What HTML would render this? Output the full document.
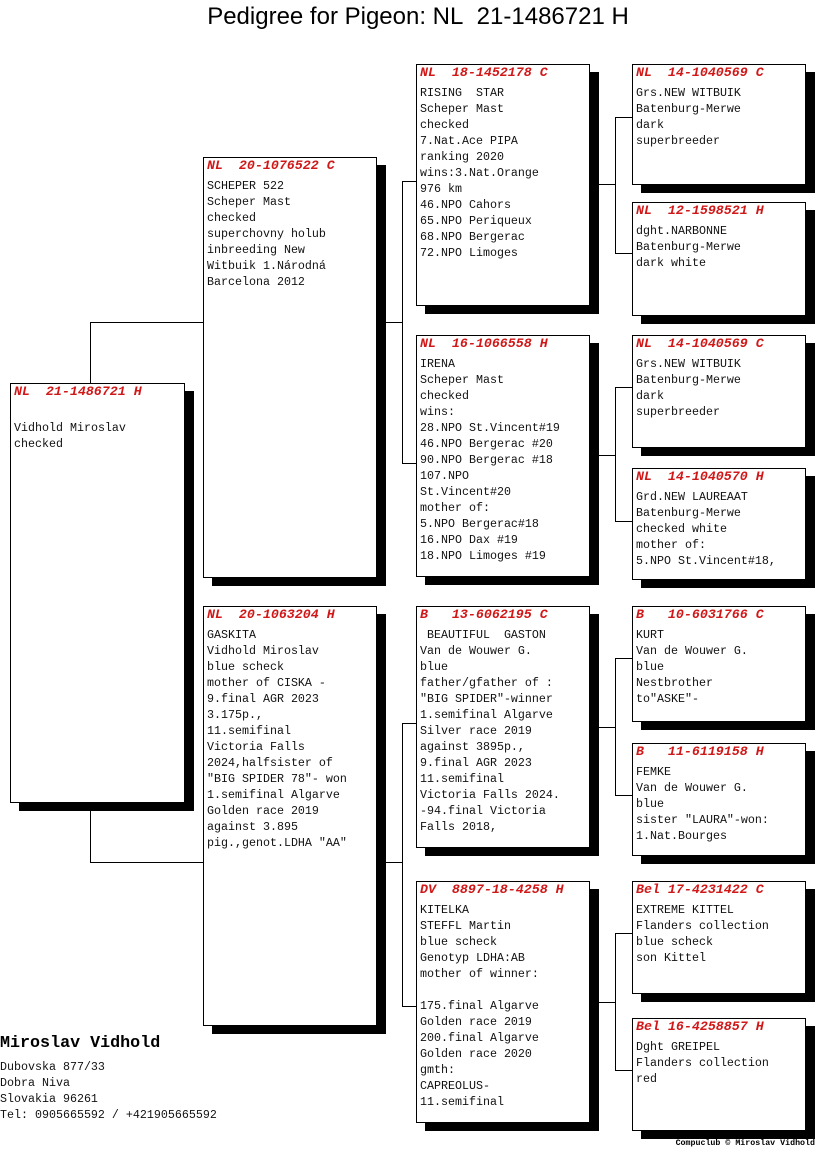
<!DOCTYPE html>
<html><head><meta charset="utf-8"><style>
body{margin:0;width:816px;height:1172px;background:#fff;position:relative;overflow:hidden;font-family:"Liberation Mono",monospace;}
.t{position:absolute;left:0;width:836px;top:3px;text-align:center;font:24px "Liberation Sans",sans-serif;color:#000;}
.b{position:absolute;border:1px solid #000;background:#fff;box-shadow:9px 8px 0 0 #000;box-sizing:border-box;}
.b .h{position:absolute;left:3px;top:0;line-height:16px;font-size:13.3px;font-weight:bold;font-style:italic;color:#d01818;white-space:pre;}
.b .c{position:absolute;left:3px;top:20px;line-height:16px;font-size:11.67px;color:#111;white-space:pre;}
.l{position:absolute;background:#000;}
.fn{position:absolute;left:0;top:1034px;font-weight:bold;font-size:16.7px;}
.fa{position:absolute;left:0;top:1059px;font-size:11.67px;line-height:16px;white-space:pre;color:#111;}
.cc{position:absolute;right:1px;top:1139px;font-size:8.3px;font-weight:bold;font-family:"Liberation Mono",monospace;}
</style></head><body>
<div class="t">Pedigree for Pigeon: NL&nbsp;&nbsp;21-1486721 H</div>

<div class="l" style="left:90px;top:322px;width:1px;height:61px"></div>
<div class="l" style="left:90px;top:322px;width:113px;height:1px"></div>
<div class="l" style="left:90px;top:802px;width:1px;height:61px"></div>
<div class="l" style="left:90px;top:862px;width:113px;height:1px"></div>

<div class="l" style="left:385px;top:322px;width:18px;height:1px"></div>
<div class="l" style="left:402px;top:181px;width:1px;height:283px"></div>
<div class="l" style="left:402px;top:181px;width:14px;height:1px"></div>
<div class="l" style="left:402px;top:463px;width:14px;height:1px"></div>
<div class="l" style="left:385px;top:862px;width:18px;height:1px"></div>
<div class="l" style="left:402px;top:723px;width:1px;height:284px"></div>
<div class="l" style="left:402px;top:723px;width:14px;height:1px"></div>
<div class="l" style="left:402px;top:1006px;width:14px;height:1px"></div>

<div class="l" style="left:598px;top:184px;width:17px;height:1px"></div>
<div class="l" style="left:615px;top:117px;width:1px;height:137px"></div>
<div class="l" style="left:615px;top:117px;width:17px;height:1px"></div>
<div class="l" style="left:615px;top:253px;width:17px;height:1px"></div>
<div class="l" style="left:598px;top:455px;width:17px;height:1px"></div>
<div class="l" style="left:615px;top:387px;width:1px;height:135px"></div>
<div class="l" style="left:615px;top:387px;width:17px;height:1px"></div>
<div class="l" style="left:615px;top:521px;width:17px;height:1px"></div>
<div class="l" style="left:598px;top:727px;width:17px;height:1px"></div>
<div class="l" style="left:615px;top:658px;width:1px;height:138px"></div>
<div class="l" style="left:615px;top:658px;width:17px;height:1px"></div>
<div class="l" style="left:615px;top:795px;width:17px;height:1px"></div>
<div class="l" style="left:598px;top:1002px;width:17px;height:1px"></div>
<div class="l" style="left:615px;top:933px;width:1px;height:138px"></div>
<div class="l" style="left:615px;top:933px;width:17px;height:1px"></div>
<div class="l" style="left:615px;top:1070px;width:17px;height:1px"></div>

<div class="b" style="left:10px;top:383px;width:175px;height:420px"><div class="h">NL  21-1486721 H</div><div class="c" style="top:36px">Vidhold Miroslav
checked</div></div>

<div class="b" style="left:203px;top:157px;width:174px;height:421px"><div class="h">NL  20-1076522 C</div><div class="c">SCHEPER 522
Scheper Mast
checked
superchovny holub
inbreeding New
Witbuik 1.Národná
Barcelona 2012</div></div>
<div class="b" style="left:203px;top:606px;width:174px;height:420px"><div class="h">NL  20-1063204 H</div><div class="c">GASKITA
Vidhold Miroslav
blue scheck
mother of CISKA -
9.final AGR 2023
3.175p.,
11.semifinal
Victoria Falls
2024,halfsister of
"BIG SPIDER 78"- won
1.semifinal Algarve
Golden race 2019
against 3.895
pig.,genot.LDHA "AA"</div></div>

<div class="b" style="left:416px;top:64px;width:174px;height:242px"><div class="h">NL  18-1452178 C</div><div class="c">RISING  STAR
Scheper Mast
checked
7.Nat.Ace PIPA
ranking 2020
wins:3.Nat.Orange
976 km
46.NPO Cahors
65.NPO Periqueux
68.NPO Bergerac
72.NPO Limoges</div></div>
<div class="b" style="left:416px;top:335px;width:174px;height:242px"><div class="h">NL  16-1066558 H</div><div class="c">IRENA
Scheper Mast
checked
wins:
28.NPO St.Vincent#19
46.NPO Bergerac #20
90.NPO Bergerac #18
107.NPO
St.Vincent#20
mother of:
5.NPO Bergerac#18
16.NPO Dax #19
18.NPO Limoges #19</div></div>
<div class="b" style="left:416px;top:606px;width:174px;height:242px"><div class="h">B   13-6062195 C</div><div class="c"> BEAUTIFUL  GASTON
Van de Wouwer G.
blue
father/gfather of :
"BIG SPIDER"-winner
1.semifinal Algarve
Silver race 2019
against 3895p.,
9.final AGR 2023
11.semifinal
Victoria Falls 2024.
-94.final Victoria
Falls 2018,</div></div>
<div class="b" style="left:416px;top:881px;width:174px;height:242px"><div class="h">DV  8897-18-4258 H</div><div class="c">KITELKA
STEFFL Martin
blue scheck
Genotyp LDHA:AB
mother of winner:

175.final Algarve
Golden race 2019
200.final Algarve
Golden race 2020
gmth:
CAPREOLUS-
11.semifinal</div></div>

<div class="b" style="left:632px;top:64px;width:174px;height:121px"><div class="h">NL  14-1040569 C</div><div class="c">Grs.NEW WITBUIK
Batenburg-Merwe
dark
superbreeder</div></div>
<div class="b" style="left:632px;top:202px;width:174px;height:114px"><div class="h">NL  12-1598521 H</div><div class="c">dght.NARBONNE
Batenburg-Merwe
dark white</div></div>
<div class="b" style="left:632px;top:335px;width:174px;height:113px"><div class="h">NL  14-1040569 C</div><div class="c">Grs.NEW WITBUIK
Batenburg-Merwe
dark
superbreeder</div></div>
<div class="b" style="left:632px;top:468px;width:174px;height:112px"><div class="h">NL  14-1040570 H</div><div class="c">Grd.NEW LAUREAAT
Batenburg-Merwe
checked white
mother of:
5.NPO St.Vincent#18,</div></div>
<div class="b" style="left:632px;top:606px;width:174px;height:116px"><div class="h">B   10-6031766 C</div><div class="c">KURT
Van de Wouwer G.
blue
Nestbrother
to"ASKE"-</div></div>
<div class="b" style="left:632px;top:743px;width:174px;height:113px"><div class="h">B   11-6119158 H</div><div class="c">FEMKE
Van de Wouwer G.
blue
sister "LAURA"-won:
1.Nat.Bourges</div></div>
<div class="b" style="left:632px;top:881px;width:174px;height:113px"><div class="h">Bel 17-4231422 C</div><div class="c">EXTREME KITTEL
Flanders collection
blue scheck
son Kittel</div></div>
<div class="b" style="left:632px;top:1018px;width:174px;height:113px"><div class="h">Bel 16-4258857 H</div><div class="c">Dght GREIPEL
Flanders collection
red</div></div>

<div class="fn">Miroslav Vidhold</div>
<div class="fa">Dubovska 877/33
Dobra Niva
Slovakia 96261
Tel: 0905665592 / +421905665592</div>
<div class="cc">Compuclub © Miroslav Vidhold</div>
</body></html>
